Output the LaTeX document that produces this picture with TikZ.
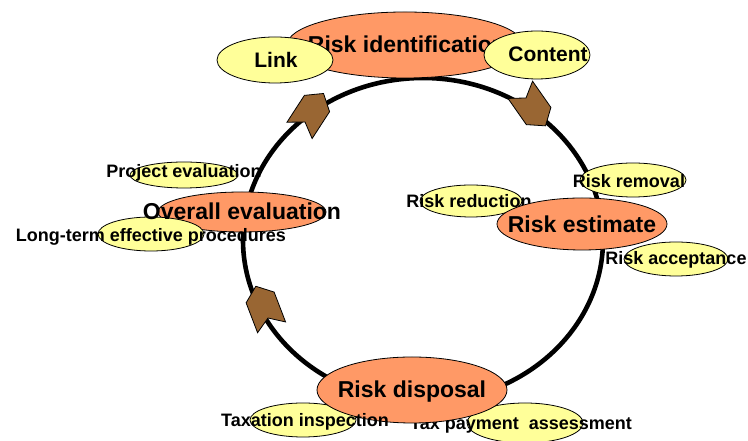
\documentclass[tikz,border=0pt]{standalone}
\usepackage{fontspec}
\setmainfont{Liberation Sans}
\usetikzlibrary{shapes.geometric}
\definecolor{salmon}{HTML}{FF9966}
\definecolor{pale}{HTML}{FFFF99}
\definecolor{brownarr}{HTML}{996633}
\tikzset{
  bigell/.style={ellipse,draw=black,line width=0.8pt,fill=salmon,inner sep=0pt},
  smallell/.style={ellipse,draw=black,line width=0.8pt,fill=pale,inner sep=0pt},
  bigtxt/.style={anchor=base,inner sep=0pt,font=\fontsize{23}{27}\selectfont\bfseries},
  midtxt/.style={anchor=base,inner sep=0pt,font=\fontsize{21}{25}\selectfont\bfseries},
  smalltxt/.style={anchor=base,inner sep=0pt,font=\fontsize{18}{21}\selectfont\bfseries},
  arrowhd/.style={fill=brownarr,draw=black,line width=0.8pt,line join=miter}
}
\begin{document}
\begin{tikzpicture}[x=1pt,y=1pt]
\useasboundingbox (0,0) rectangle (748,441);
% the cycle
\draw[line width=4.6pt] (423,201) ellipse [x radius=180pt, y radius=162pt];
% arrow heads on the cycle
\draw[arrowhd, shift={(305,319)}, rotate=57] (0,0) -- (-10,15) -- (22,15) -- (34,0) -- (22,-15) -- (-10,-15) -- cycle;
\draw[arrowhd, shift={(526,343)}, rotate=-55] (0,0) -- (-10,15) -- (22,15) -- (34,0) -- (22,-15) -- (-10,-15) -- cycle;
\draw[arrowhd, shift={(268,123)}, rotate=111] (0,0) -- (-10,15) -- (22,15) -- (34,0) -- (22,-15) -- (-10,-15) -- cycle;
% bubbles lying behind the big ones
\node[smallell, minimum width=108pt, minimum height=26pt] (projell) at (184,266) {};
\node[smallell, minimum width=106pt, minimum height=34pt] (remell) at (633,261) {};
\node[smallell, minimum width=102pt, minimum height=32pt] (redell) at (471,240) {};
\node[smallell, minimum width=104pt, minimum height=34pt] (accell) at (676,182) {};
\node[smallell, minimum width=106pt, minimum height=34pt] (inspell) at (303,21) {};
\node[smallell, minimum width=116pt, minimum height=40pt] (payell) at (525,18) {};
\node[smalltxt] (pay) at (521,11) {Tax payment\ \ assessment};
\node[smalltxt] (red) at (469,233) {Risk reduction};
% the four stages
\node[bigell, minimum width=236pt, minimum height=66pt] (identell) at (405,396) {};
\node[bigtxt] (ident) at (407,388) {Risk identification};
\node[bigell, minimum width=170pt, minimum height=52pt] (estell) at (582,217) {};
\node[bigell, minimum width=190pt, minimum height=66pt] (dispell) at (412,51) {};
\node[bigell, minimum width=168pt, minimum height=40pt] (overell) at (242,229) {};
% bubbles in front
\node[smallell, minimum width=116pt, minimum height=46pt] (linkell) at (275,381) {};
\node[smallell, minimum width=106pt, minimum height=48pt] (contell) at (537,386) {};
\node[smallell, minimum width=106pt, minimum height=34pt] (longell) at (151,207) {};
% texts
\node[midtxt] (link) at (276,373) {Link};
\node[midtxt] (cont) at (548,379) {Content};
\node[bigtxt] (over) at (242,221) {Overall evaluation};
\node[bigtxt] (est) at (582,208) {Risk estimate};
\node[bigtxt] (disp) at (412,43) {Risk disposal};
\node[smalltxt] (proj) at (184,263) {Project evaluation};
\node[smalltxt] (long) at (151,199) {Long-term effective procedures};
\node[smalltxt] (rem) at (629,253) {Risk removal};
\node[smalltxt] (acc) at (676,176) {Risk acceptance};
\node[smalltxt] (insp) at (305,14) {Taxation inspection};
\end{tikzpicture}
\end{document}
